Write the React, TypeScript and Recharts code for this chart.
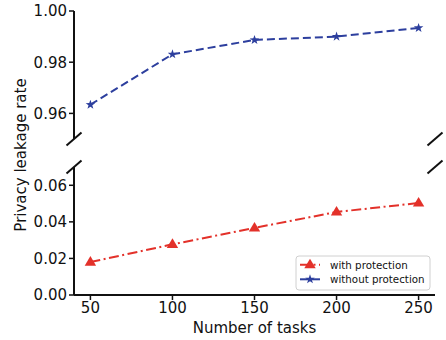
import { Line, LineChart, XAxis, YAxis } from "recharts";

const TASKS = [50, 100, 150, 200, 250];
const WITH_PROTECTION = [0.018, 0.0277, 0.0367, 0.0454, 0.0503];
const WITHOUT_PROTECTION = [0.9634, 0.9831, 0.9887, 0.990, 0.9934];

const X_TICKS = [50, 100, 150, 200, 250];
const TOP_TICKS = [0.96, 0.98, 1.0];
const BOTTOM_TICKS = [0, 0.02, 0.04, 0.06];

const SERIES_NAMES = ["with protection", "without protection"];
const RED = "#e3312a";
const BLUE = "#2d3f9e";
const INK = "#111";

const data = TASKS.map((t, i) => ({ tasks: t, withP: WITH_PROTECTION[i], withoutP: WITHOUT_PROTECTION[i] }));

const W = 446;
const H = 340;
const font = "'DejaVu Sans', sans-serif";
const tickStyle = { fontSize: 15, fill: INK };

function starPoints(cx: number, cy: number, r: number) {
  const pts: string[] = [];
  for (let i = 0; i < 10; i++) {
    const rad = i % 2 === 0 ? r : r * 0.4;
    const a = -Math.PI / 2 + (i * Math.PI) / 5;
    pts.push(`${cx + rad * Math.cos(a)},${cy + rad * Math.sin(a)}`);
  }
  return pts.join(" ");
}

function triPoints(cx: number, cy: number, r: number) {
  return `${cx},${cy - r} ${cx - r * 0.95},${cy + r * 0.6} ${cx + r * 0.95},${cy + r * 0.6}`;
}

const StarDot = (props: any) => {
  const { cx, cy, index } = props;
  if (cx == null || cy == null) return null;
  return <polygon key={`s${index}`} points={starPoints(cx, cy, 5)} fill={BLUE} />;
};

const TriDot = (props: any) => {
  const { cx, cy, index } = props;
  if (cx == null || cy == null) return null;
  return <polygon key={`t${index}`} points={triPoints(cx, cy, 6)} fill={RED} />;
};

const fmt = (v: number) => v.toFixed(2);

export default function App() {
  const spine = { stroke: INK, strokeWidth: 2 };
  const tickLine = { stroke: INK, strokeWidth: 1.5 };
  return (
    <div style={{ position: "absolute", left: 0, top: 0, width: W, height: H, background: "#fff", fontFamily: font }}>
      {/* upper panel */}
      <div style={{ position: "absolute", left: 0, top: 0 }}>
        <LineChart width={W} height={H} data={data} margin={{ top: 11, right: 11, bottom: 201, left: 0 }}>
          <XAxis
            dataKey="tasks"
            type="number"
            domain={[40, 260]}
            ticks={X_TICKS}
            orientation="top"
            height={0}
            tick={false}
            tickLine={false}
            axisLine={spine}
          />
          <YAxis
            yAxisId="l"
            domain={[0.95, 1.0]}
            ticks={TOP_TICKS}
            tickFormatter={fmt}
            width={74}
            tick={tickStyle}
            tickSize={5}
            tickLine={tickLine}
            axisLine={spine}
            allowDataOverflow
          />
          <YAxis yAxisId="r" orientation="right" width={0} tick={false} tickLine={false} axisLine={spine} />
          <Line
            yAxisId="l"
            dataKey="withoutP"
            name={SERIES_NAMES[1]}
            stroke={BLUE}
            strokeWidth={2}
            strokeDasharray="8 4"
            dot={StarDot}
            activeDot={false}
            isAnimationActive={false}
          />
        </LineChart>
      </div>
      {/* lower panel */}
      <div style={{ position: "absolute", left: 0, top: 0 }}>
        <LineChart width={W} height={H} data={data} margin={{ top: 167, right: 11, bottom: 0, left: 0 }}>
          <XAxis
            dataKey="tasks"
            type="number"
            domain={[40, 260]}
            ticks={X_TICKS}
            height={45}
            tick={tickStyle}
            tickSize={5}
            tickLine={tickLine}
            axisLine={spine}
            label={{ value: "Number of tasks", position: "insideBottom", offset: 7, fontSize: 15, fill: INK }}
          />
          <YAxis
            yAxisId="l"
            domain={[0, 0.07]}
            ticks={BOTTOM_TICKS}
            tickFormatter={fmt}
            width={74}
            tick={tickStyle}
            tickSize={5}
            tickLine={tickLine}
            axisLine={spine}
            allowDataOverflow
          />
          <YAxis yAxisId="r" orientation="right" width={0} tick={false} tickLine={false} axisLine={spine} />
          <Line
            yAxisId="l"
            dataKey="withP"
            name={SERIES_NAMES[0]}
            stroke={RED}
            strokeWidth={2}
            strokeDasharray="10 3.5 2 3.5"
            dot={TriDot}
            activeDot={false}
            isAnimationActive={false}
          />
        </LineChart>
      </div>
      {/* break marks, shared y label and legend */}
      <svg width={W} height={H} style={{ position: "absolute", left: 0, top: 0, pointerEvents: "none" }}>
        {[
          [74, 139],
          [435, 139],
          [74, 167],
          [435, 167],
        ].map(([x, y], i) => (
          <line key={i} x1={x - 7.5} y1={y + 6.5} x2={x + 7.5} y2={y - 6.5} stroke={INK} strokeWidth={2} />
        ))}
        <text
          x={21}
          y={155}
          transform="rotate(-90 21 155)"
          textAnchor="middle"
          dominantBaseline="central"
          fontSize={15}
          fill={INK}
        >
          Privacy leakage rate
        </text>
        <rect x={296} y={256} width={134} height={34} rx={3} fill="#fff" fillOpacity={0.8} stroke="#d0d0d0" />
        <line x1={300} y1={264.7} x2={320} y2={264.7} stroke={RED} strokeWidth={2} strokeDasharray="10 3.5 2 3.5" />
        <polygon points={triPoints(310, 264.7, 6)} fill={RED} />
        <text x={330} y={264.7} dominantBaseline="central" fontSize={10.3} fill={INK}>
          {SERIES_NAMES[0]}
        </text>
        <line x1={300} y1={279.3} x2={320} y2={279.3} stroke={BLUE} strokeWidth={2} />
        <polygon points={starPoints(310, 279.3, 5)} fill={BLUE} />
        <text x={330} y={279.3} dominantBaseline="central" fontSize={10.3} fill={INK}>
          {SERIES_NAMES[1]}
        </text>
      </svg>
    </div>
  );
}
